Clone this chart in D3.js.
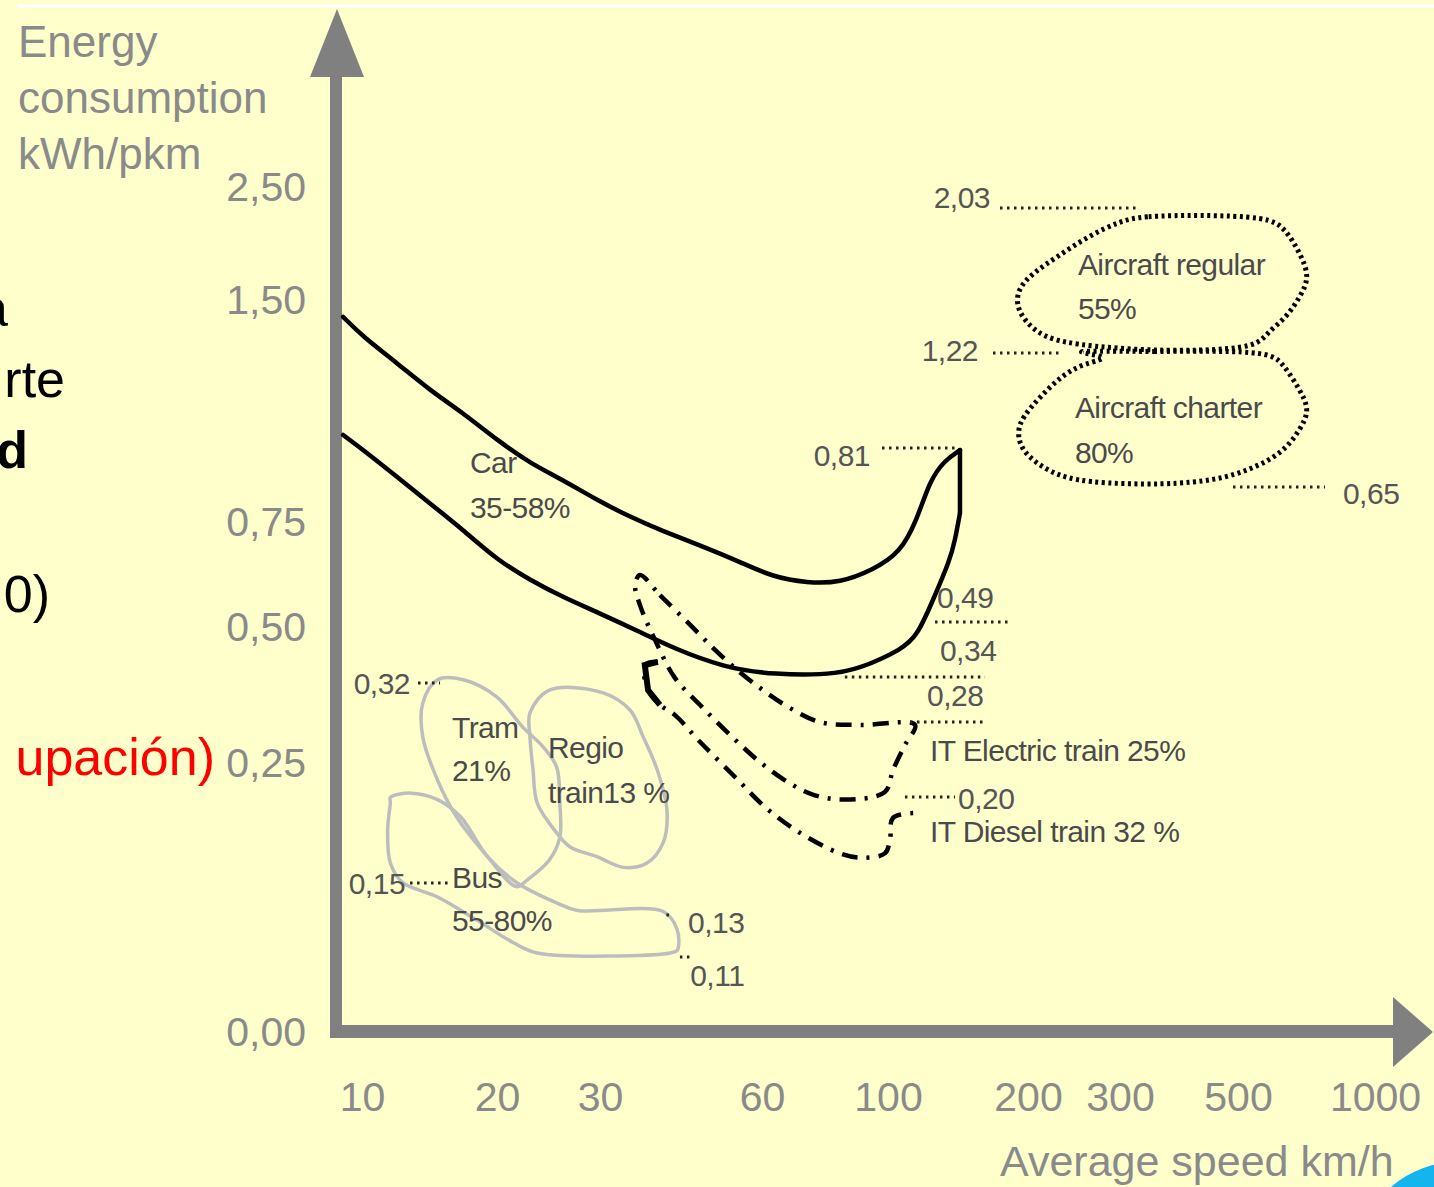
<!DOCTYPE html>
<html><head><meta charset="utf-8">
<script src="https://cdn.jsdelivr.net/npm/d3@7"></script>
<style>
html,body{margin:0;padding:0;background:#FFFFCC;}
svg{display:block;}
</style></head><body>
<svg id="c" width="1434" height="1187"></svg>
<script>
// ---------------- DATA ----------------
const yTickValues = [0, 0.25, 0.5, 0.75, 1.5, 2.5];
const xTickValues = [10, 20, 30, 60, 100, 200, 300, 500, 1000];

// Car band: upper curve (left -> peak), right edge, lower curve (right -> left)
const carUpper = [[8.6,1.443],[10.1,1.375],[12.6,1.287],[15.0,1.196],[17.5,1.118],[20,1.027],[23.2,0.949],[26.4,0.892],[29.7,0.824],[35.6,0.767],[41.1,0.731],[49.8,0.688],[55.9,0.655],[63.5,0.619],[74.3,0.605],[84.8,0.605],[95.2,0.636],[108.6,0.676],[120.7,0.757],[130,0.892],[140.7,0.959],[151.4,0.993]];
const carRightEdge = [[151.4,0.993],[151.4,0.780]];
const carLower = [[151.4,0.780],[147.9,0.707],[144.3,0.660],[132.1,0.564],[120.7,0.482],[108.6,0.458],[95.2,0.434],[84.8,0.412],[63.5,0.412],[52.8,0.426],[43.5,0.4614],[37.4,0.4908],[29.7,0.5357],[26.4,0.571],[23.2,0.612],[20,0.660],[17.5,0.731],[15.0,0.814],[12.6,0.902],[10.1,0.993],[8.6,1.044]];

// Aircraft regions (closed loops)
const aircraftRegular = [[300,2.199],[339,2.243],[436,2.252],[606,2.235],[672,2.137],[726,1.916],[763,1.704],[726,1.527],[679,1.443],[606,1.389],[569,1.341],[436,1.328],[322,1.331],[231.5,1.355],[205,1.399],[192,1.466],[192,1.588],[205,1.739],[231.5,1.881],[264,2.058]];
const aircraftCharter = [[231.5,1.331],[351,1.324],[606,1.331],[664,1.287],[726,1.196],[763,1.128],[726,1.061],[664,0.983],[544,0.926],[464,0.892],[380,0.875],[260,0.882],[224,0.916],[196,0.984],[192,1.051],[196,1.105],[213,1.172],[235,1.240],[260,1.287],[297,1.307]];

// Intercity trains
const electricTrain = [[37.4,0.624],[41.1,0.576],[46.7,0.505],[51.3,0.458],[55.9,0.417],[61.0,0.381],[68.9,0.351],[78.4,0.325],[91.1,0.320],[119.3,0.320],[112.1,0.283],[103.6,0.2435],[99.0,0.223],[86.3,0.216],[76.8,0.220],[68.9,0.231],[59.6,0.252],[54.1,0.3015],[48.5,0.357],[43.9,0.406],[40.2,0.476],[37.4,0.552],[36.5,0.600]];
const dieselTrain = [[40.7,0.436],[38.3,0.430],[38.9,0.384],[41.1,0.357],[43.9,0.338],[48.5,0.289],[55.0,0.237],[61.0,0.209],[72.1,0.185],[84.8,0.166],[91.7,0.162],[99.0,0.166],[101.4,0.1785],[103.6,0.199],[119.3,0.2035]];

// Local transport (grey loops)
const tram = [[15.6,0.403],[17.5,0.403],[20,0.371],[22.5,0.316],[24.5,0.279],[25.8,0.246],[26.1,0.213],[26.1,0.181],[25.1,0.160],[22.9,0.141],[21.9,0.135],[19.3,0.163],[17.0,0.200],[15.6,0.234],[14.5,0.298],[14.5,0.360]];
const regioTrain = [[23.2,0.342],[25.1,0.384],[30.6,0.379],[35.6,0.347],[38.0,0.298],[40.6,0.2435],[42.4,0.206],[41.7,0.176],[38.7,0.157],[34.3,0.153],[29.7,0.163],[27.1,0.172],[25.8,0.185],[23.9,0.213],[23.5,0.2435],[23.2,0.298]];
const bus = [[12.1,0.218],[13.6,0.222],[15.6,0.216],[17.3,0.200],[19.3,0.163],[21.9,0.139],[25.8,0.120],[27.8,0.113],[41.7,0.112],[44.3,0.095],[44.3,0.076],[43.0,0.0735],[23.9,0.0735],[21.6,0.083],[18.5,0.104],[15.6,0.1255],[13.0,0.139],[12.1,0.157],[11.9,0.188],[12.1,0.213]];

// Value annotations
const levelLabels      = ["2,03","1,22","0,81","0,65","0,49","0,34","0,28","0,20","0,32","0,15","0,13","0,11"];
const levelTextSpeed   = [172.9, 164.3, 94.3, 883, 135, 137.1, 127.9, 150, 13.56, 13.19, 46.3, 46.7];
const levelTextEnergy  = [2.4115, 1.331, 0.976, 0.848, 0.5714, 0.4577, 0.375, 0.2175, 0.397, 0.1385, 0.1023, 0.053];
const levelLineEnergy  = [2.314, 1.321, 1.0, 0.868, 0.512, 0.408, 0.3254, 0.2184, 0.397, 0.1385, 0.1088, 0.0698];
const levelLineFrom    = [180, 175, 98.1, 491.5, 133.6, 86.3, 115.7, 112.1, 14.15, 13.56, 42.3, 44.8];
const levelLineTo      = [333.9, 234.8, 147.9, 817.5, 187.1, 169.3, 169.3, 147.9, 15.78, 16.5, 43.0, 46.7];

// Region labels
const regionNames  = ["Car","35-58%","Aircraft regular","55%","Aircraft charter","80%","IT Electric train 25%","IT Diesel train 32 %","Tram","21%","Regio","train13 %","Bus","55-80%"];
const regionSpeed  = [18.0,18.0,254.3,254.3,251,251,130,130,16.67,16.67,24.95,24.95,16.67,16.67];
const regionEnergy = [0.953,0.8007,1.819,1.473,1.1385,0.9865,0.2739,0.1868,0.3162,0.2435,0.2794,0.223,0.144,0.1041];

// Axis titles and slide fragments
const yTitleLines = ["Energy","consumption","kWh/pkm"];
const xTitle = "Average speed km/h";
const slideFragments = ["a","rte","d","0)","upación)"];

// ---------------- DRAWING ----------------
const FONT = "'Liberation Sans', Arial, Helvetica, sans-serif";
const svg = d3.select("#c");
svg.append("rect").attr("width",1434).attr("height",1187).attr("fill","#FFFFCC");

const x = d3.scaleLinear().domain(xTickValues).range([362,497,600,762,888,1028,1120,1238,1375]);
const y = d3.scaleLinear().domain(yTickValues).range([1032,763,627,522,300,187]);

// decorative top white rule and blue corner
svg.append("line").attr("x1",17).attr("x2",1434).attr("y1",6).attr("y2",6).attr("stroke","#ffffff").attr("stroke-width",3);
svg.append("ellipse").attr("cx",1470).attr("cy",1230).attr("rx",100).attr("ry",70).attr("fill","#14B4EE");

// slide fragments at the left edge
const fragAttrs = [
  {x:8,  y:326, w:"normal", c:"#000"},
  {x:65, y:397, w:"normal", c:"#000"},
  {x:28, y:468, w:"bold",   c:"#000"},
  {x:50, y:612, w:"normal", c:"#000"},
  {x:215,y:775, w:"normal", c:"#FF0000"}
];
svg.append("g").selectAll("text").data(slideFragments).join("text")
  .attr("x",(d,i)=>fragAttrs[i].x).attr("y",(d,i)=>fragAttrs[i].y)
  .attr("text-anchor","end").attr("font-family",FONT).attr("font-size",52)
  .attr("font-weight",(d,i)=>fragAttrs[i].w).attr("fill",(d,i)=>fragAttrs[i].c)
  .text(d=>d);

// axes (thick grey arrows)
const AX = "#808080";
svg.append("rect").attr("x",330).attr("y",70).attr("width",12).attr("height",968).attr("fill",AX);
svg.append("path").attr("d","M337,9 L364,77 L310,77 Z").attr("fill",AX);
svg.append("rect").attr("x",330).attr("y",1025).attr("width",1066).attr("height",13).attr("fill",AX);
svg.append("path").attr("d","M1433,1032 L1393,997 L1393,1067 Z").attr("fill",AX);

const tickFmtY = d => d.toFixed(2).replace(".",",");
const gy = svg.append("g").attr("transform","translate(336,0)")
  .call(d3.axisLeft(y).tickValues(yTickValues).tickSize(0).tickPadding(30).tickFormat(tickFmtY));
gy.select(".domain").remove();
gy.selectAll("text").attr("font-family",FONT).attr("font-size",41).attr("fill","#8a8a8a");

const gx = svg.append("g").attr("transform","translate(0,1032)")
  .call(d3.axisBottom(x).tickValues(xTickValues).tickSize(0).tickPadding(50).tickFormat(d3.format("d")));
gx.select(".domain").remove();
gx.selectAll("text").attr("font-family",FONT).attr("font-size",41).attr("fill","#8a8a8a");

// axis titles
svg.append("g").selectAll("text").data(yTitleLines).join("text")
  .attr("x",18).attr("y",(d,i)=>57+i*56)
  .attr("font-family",FONT).attr("font-size",44).attr("fill","#8a8a8a").text(d=>d);
svg.append("text").attr("x",1000).attr("y",1176)
  .attr("font-family",FONT).attr("font-size",43).attr("fill","#8a8a8a").text(xTitle);

// line generators
const lineSmooth = d3.line().x(d=>x(d[0])).y(d=>y(d[1])).curve(d3.curveBasis);
const lineStraight = d3.line().x(d=>x(d[0])).y(d=>y(d[1]));
const lineOpen = d3.line().x(d=>x(d[0])).y(d=>y(d[1])).curve(d3.curveCatmullRom.alpha(0.5));
const lineClosed = d3.line().x(d=>x(d[0])).y(d=>y(d[1])).curve(d3.curveCatmullRomClosed.alpha(0.5));
const lineClosedSmooth = d3.line().x(d=>x(d[0])).y(d=>y(d[1])).curve(d3.curveBasisClosed);

// local transport grey loops
[tram, regioTrain, bus].forEach(arr=>{
  svg.append("path").attr("d",lineClosed(arr)).attr("fill","none")
    .attr("stroke","#bdbdbd").attr("stroke-width",3.5);
});

// car band
const carStyle = p => p.attr("fill","none").attr("stroke","#000").attr("stroke-width",4.5).attr("stroke-linejoin","round").attr("stroke-linecap","round");
svg.append("path").attr("d",lineSmooth(carUpper)).call(carStyle);
svg.append("path").attr("d",lineStraight(carRightEdge)).call(carStyle);
svg.append("path").attr("d",lineSmooth(carLower)).call(carStyle);

// trains (dash-dot)
svg.append("path").attr("d",lineClosed(electricTrain)).attr("fill","none").attr("stroke","#000")
  .attr("stroke-width",4.5).attr("stroke-dasharray","16 9 3 9");
svg.append("path").attr("d",lineOpen(dieselTrain)).attr("fill","none").attr("stroke","#000")
  .attr("stroke-width",4.5).attr("stroke-dasharray","16 9 3 9");
svg.append("path").attr("d",lineStraight(dieselTrain.slice(0,4))).attr("fill","none").attr("stroke","#000")
  .attr("stroke-width",6);

// aircraft (dotted)
[aircraftRegular, aircraftCharter].forEach(arr=>{
  svg.append("path").attr("d",lineClosedSmooth(arr)).attr("fill","none").attr("stroke","#000")
    .attr("stroke-width",5).attr("stroke-dasharray","3 3.5");
});

// leader dotted lines
svg.append("g").selectAll("line").data(levelLabels).join("line")
  .attr("x1",(d,i)=>x(levelLineFrom[i])).attr("x2",(d,i)=>x(levelLineTo[i]))
  .attr("y1",(d,i)=>y(levelLineEnergy[i])).attr("y2",(d,i)=>y(levelLineEnergy[i]))
  .attr("stroke","#222").attr("stroke-width",3).attr("stroke-dasharray","2.5 4.5");

// value labels
const levelAnchor = ["end","end","end","start","start","start","start","start","end","end","start","start"];
svg.append("g").selectAll("text").data(levelLabels).join("text")
  .attr("x",(d,i)=>x(levelTextSpeed[i])).attr("y",(d,i)=>y(levelTextEnergy[i]))
  .attr("dy","0.36em").attr("text-anchor",(d,i)=>levelAnchor[i])
  .attr("font-family",FONT).attr("font-size",30).attr("fill","#555").attr("letter-spacing",-0.5)
  .text(d=>d);

// region labels
svg.append("g").selectAll("text").data(regionNames).join("text")
  .attr("x",(d,i)=>x(regionSpeed[i])).attr("y",(d,i)=>y(regionEnergy[i]))
  .attr("dy","0.36em")
  .attr("font-family",FONT).attr("font-size",30).attr("fill","#4a4a4a").attr("letter-spacing",-0.6)
  .text(d=>d);
</script>
</body></html>
